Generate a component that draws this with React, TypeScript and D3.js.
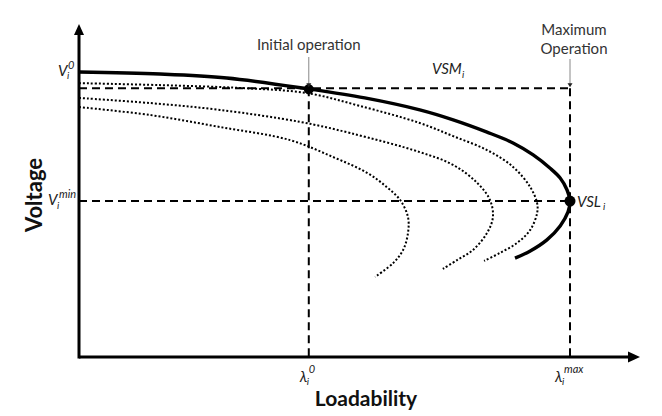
import React from 'react';
import * as d3 from 'd3';

// Normalised units: loadability λ / λmax, voltage V / V0
const mainCurve: [number, number][] = [
  [0, 1.0], [0.165, 0.993], [0.301, 0.979], [0.47, 0.94], [0.582, 0.909], [0.694, 0.867],
  [0.762, 0.832], [0.831, 0.789], [0.884, 0.751], [0.925, 0.709], [0.959, 0.663], [0.98, 0.628],
  [0.994, 0.586], [1.0, 0.547], [0.996, 0.509], [0.98, 0.46], [0.953, 0.411], [0.919, 0.372],
  [0.888, 0.347],
];
const dotted1: [number, number][] = [
  [0, 0.961], [0.165, 0.954], [0.328, 0.944], [0.464, 0.926], [0.572, 0.881], [0.694, 0.821],
  [0.762, 0.775], [0.831, 0.726], [0.884, 0.667], [0.919, 0.596], [0.933, 0.54], [0.933, 0.505],
  [0.919, 0.446], [0.892, 0.4], [0.857, 0.365], [0.825, 0.337],
];
const dotted2: [number, number][] = [
  [0, 0.909], [0.145, 0.891], [0.287, 0.867], [0.45, 0.825], [0.552, 0.786], [0.694, 0.719],
  [0.762, 0.674], [0.811, 0.611], [0.837, 0.551], [0.843, 0.491], [0.831, 0.435],
  [0.802, 0.375], [0.77, 0.34], [0.741, 0.309],
];
const dotted3: [number, number][] = [
  [0, 0.877], [0.145, 0.849], [0.287, 0.807], [0.43, 0.761], [0.517, 0.702], [0.587, 0.646],
  [0.627, 0.596], [0.654, 0.551], [0.67, 0.491], [0.67, 0.435], [0.66, 0.375], [0.64, 0.33],
  [0.603, 0.281],
];
const dottedCurves = [dotted1, dotted2, dotted3];

const lambda0 = 0.468;
const lambdaMax = 1.0;
const V0 = 1.0;
const Vop = 0.943;
const Vmin = 0.547;
const xAxisEnd = 1.1426;
const yAxisEnd = 1.168;

const FONT = 'Lato, "Open Sans", sans-serif';

export default function App() {
  const W = 662, H = 416;
  const x = d3.scaleLinear().domain([0, 1]).range([79, 570]);
  const y = d3.scaleLinear().domain([0, 1]).range([357, 72]);
  const line = d3
    .line<[number, number]>()
    .x((d) => x(d[0]))
    .y((d) => y(d[1]))
    .curve(d3.curveCatmullRom.alpha(0.5));

  const x0 = x(0), y0 = y(0);
  const xTip = x(xAxisEnd), yTip = y(yAxisEnd);
  const dash = '8,5';

  const arrowDown = (cx: number, y1: number, y2: number) => (
    <g>
      <line x1={cx} y1={y1} x2={cx} y2={y2 - 3} stroke="#888" strokeWidth={1} />
      <path d={`M${cx - 2.5},${y2 - 4}L${cx + 2.5},${y2 - 4}L${cx},${y2}Z`} fill="#222" />
    </g>
  );

  return (
    <svg width={W} height={H} style={{ position: 'absolute', left: 0, top: 0, background: '#fff' }}>
      {/* dashed guides */}
      <line x1={x0} x2={x(lambdaMax)} y1={y(Vop)} y2={y(Vop)} stroke="#000" strokeWidth={2} strokeDasharray={dash} />
      <line x1={x0} x2={x(lambdaMax)} y1={y(Vmin)} y2={y(Vmin)} stroke="#000" strokeWidth={2} strokeDasharray={dash} />
      <line x1={x(lambda0)} x2={x(lambda0)} y1={y(Vop)} y2={y0} stroke="#000" strokeWidth={2} strokeDasharray={dash} />
      <line x1={x(lambdaMax)} x2={x(lambdaMax)} y1={y(Vop)} y2={y0} stroke="#000" strokeWidth={2} strokeDasharray={dash} />

      {/* dotted curves */}
      {dottedCurves.map((c, i) => (
        <path key={i} d={line(c) || ''} fill="none" stroke="#000" strokeWidth={2} strokeDasharray="2,2" />
      ))}
      {/* main curve */}
      <path d={line(mainCurve) || ''} fill="none" stroke="#000" strokeWidth={3.4} />

      {/* points */}
      <circle cx={x(lambda0)} cy={y(Vop) + 1} r={5} fill="#000" />
      <circle cx={x(lambdaMax)} cy={y(Vmin)} r={5.5} fill="#000" />

      {/* axes */}
      <line x1={x0} y1={y0} x2={xTip - 6} y2={y0} stroke="#000" strokeWidth={3} />
      <path d={`M${xTip},${y0}L${xTip - 12},${y0 - 5.5}L${xTip - 12},${y0 + 5.5}Z`} fill="#000" />
      <line x1={x0} y1={y0 + 1.5} x2={x0} y2={yTip + 6} stroke="#000" strokeWidth={3} />
      <path d={`M${x0},${yTip}L${x0 - 5},${yTip + 11}L${x0 + 5},${yTip + 11}Z`} fill="#000" />

      {/* annotation arrows */}
      {arrowDown(x(lambda0), 57, y(Vop) - 1)}
      {arrowDown(x(lambdaMax), 59, y(Vop) - 1)}

      {/* annotation text */}
      <g fontFamily={FONT} fill="#333" fontSize={15}>
        <text x={x(lambda0)} y={50} textAnchor="middle">Initial operation</text>
        <text x={x(lambdaMax) + 4} y={35} textAnchor="middle">Maximum</text>
        <text x={x(lambdaMax) + 4} y={54} textAnchor="middle">Operation</text>
      </g>

      {/* math labels */}
      <g fontFamily={FONT} fontStyle="italic" fill="#222">
        {/* V_i^0 */}
        <text x={x0 - 21} y={y(V0) + 4} fontSize={15}>V</text>
        <text x={x0 - 12} y={y(V0) + 7} fontSize={10}>i</text>
        <text x={x0 - 11} y={y(V0) - 3} fontSize={11}>0</text>
        {/* V_i^min */}
        <text x={x0 - 31} y={y(Vmin) + 4} fontSize={15}>V</text>
        <text x={x0 - 22} y={y(Vmin) + 8} fontSize={10}>i</text>
        <text x={x0 - 20} y={y(Vmin) - 3} fontSize={11}>min</text>
        {/* VSM_i */}
        <text x={432} y={y(Vop) - 14} fontSize={15}>VSM</text>
        <text x={462} y={y(Vop) - 10} fontSize={10}>i</text>
        {/* VSL_i */}
        <text x={x(lambdaMax) + 7} y={y(Vmin) + 6} fontSize={15}>VSL</text>
        <text x={x(lambdaMax) + 33} y={y(Vmin) + 9} fontSize={10}>i</text>
        {/* λ_i^0 */}
        <text x={x(lambda0) - 9} y={y0 + 25} fontSize={15}>λ</text>
        <text x={x(lambda0) - 2} y={y0 + 28} fontSize={10}>i</text>
        <text x={x(lambda0) + 0} y={y0 + 16} fontSize={11}>0</text>
        {/* λ_i^max */}
        <text x={x(lambdaMax) - 15} y={y0 + 25} fontSize={15}>λ</text>
        <text x={x(lambdaMax) - 8} y={y0 + 28} fontSize={10}>i</text>
        <text x={x(lambdaMax) - 6} y={y0 + 16} fontSize={11}>max</text>
      </g>

      {/* axis titles */}
      <text x={366} y={406} textAnchor="middle" fontFamily={FONT} fontWeight="bold" fontSize={21} fill="#111">
        Loadability
      </text>
      <text
        transform={`translate(42,195) rotate(-90)`}
        textAnchor="middle"
        fontFamily={FONT}
        fontWeight="bold"
        fontSize={22}
        fill="#111"
      >
        Voltage
      </text>
    </svg>
  );
}
